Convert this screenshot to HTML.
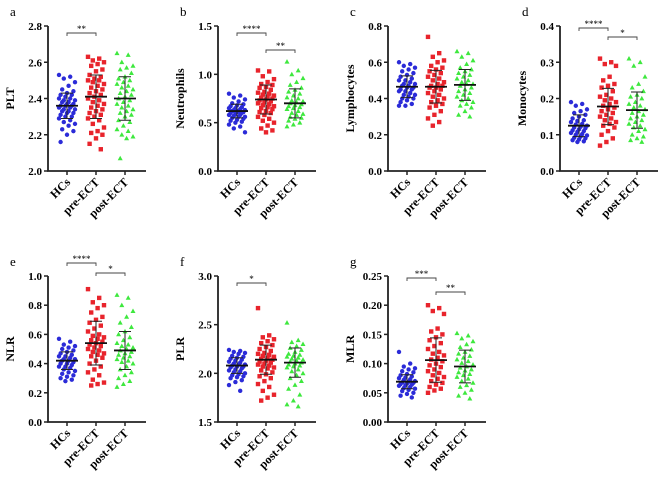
<!DOCTYPE html>
<html><head><meta charset="utf-8"><style>
html,body{margin:0;padding:0;background:#fff;}
svg{display:block;font-family:"Liberation Serif",serif;font-weight:bold;}
</style></head><body>
<svg id="chart" width="669" height="482" viewBox="0 0 669 482" xmlns="http://www.w3.org/2000/svg"></svg>
<script>
// ---- data ----
const categories = ["HCs","pre-ECT","post-ECT"];
const panelLetters = ["a","b","c","d","e","f","g"];
const panelTitles = ["PLT","Neutrophils","Lymphocytes","Monocytes","NLR","PLR","MLR"];
const yMins = [2.0,0,0,0,0,1.5,0];
const yMaxs = [2.8,1.5,0.8,0.4,1.0,3.0,0.25];
const yTicks = [
 ["2.0","2.2","2.4","2.6","2.8"],["0.0","0.5","1.0","1.5"],["0.0","0.2","0.4","0.6","0.8"],
 ["0.0","0.1","0.2","0.3","0.4"],["0.0","0.2","0.4","0.6","0.8","1.0"],["1.5","2.0","2.5","3.0"],
 ["0.00","0.05","0.10","0.15","0.20","0.25"]];
const means = [[2.36,2.41,2.40],[0.62,0.74,0.70],[0.465,0.465,0.475],[0.125,0.178,0.168],[0.42,0.54,0.49],[2.08,2.14,2.11],[0.069,0.106,0.095]];
const sds = [[0.07,0.12,0.12],[0.07,0.15,0.15],[0.06,0.09,0.085],[0.03,0.05,0.05],[0.06,0.15,0.13],[0.08,0.15,0.15],[0.012,0.038,0.028]];
const hcValues = [
 [2.53,2.52,2.51,2.49,2.47,2.45,2.44,2.43,2.42,2.42,2.41,2.40,2.40,2.39,2.39,2.38,2.38,2.37,2.37,2.36,2.36,2.36,2.35,2.35,2.34,2.34,2.33,2.33,2.32,2.32,2.31,2.30,2.30,2.29,2.28,2.27,2.26,2.25,2.23,2.22,2.20,2.16],
 [0.80,0.78,0.76,0.74,0.72,0.70,0.69,0.68,0.67,0.66,0.65,0.65,0.64,0.63,0.63,0.62,0.62,0.61,0.61,0.60,0.60,0.59,0.58,0.58,0.57,0.56,0.56,0.55,0.54,0.53,0.52,0.51,0.50,0.48,0.46,0.44,0.40],
 [0.60,0.59,0.58,0.57,0.56,0.55,0.54,0.53,0.52,0.51,0.50,0.50,0.49,0.48,0.48,0.47,0.47,0.46,0.46,0.45,0.45,0.44,0.44,0.43,0.42,0.42,0.41,0.40,0.40,0.39,0.38,0.37,0.36,0.36],
 [0.19,0.185,0.18,0.17,0.165,0.16,0.155,0.15,0.145,0.14,0.138,0.135,0.13,0.128,0.125,0.122,0.12,0.118,0.115,0.112,0.11,0.108,0.105,0.102,0.10,0.098,0.095,0.092,0.09,0.087,0.085,0.082,0.08],
 [0.57,0.55,0.53,0.52,0.51,0.50,0.49,0.48,0.47,0.46,0.45,0.45,0.44,0.43,0.43,0.42,0.42,0.41,0.40,0.40,0.39,0.38,0.38,0.37,0.36,0.35,0.34,0.33,0.32,0.31,0.30,0.29,0.28],
 [2.24,2.23,2.22,2.21,2.20,2.18,2.17,2.16,2.15,2.14,2.13,2.12,2.11,2.10,2.09,2.09,2.08,2.07,2.07,2.06,2.05,2.04,2.03,2.02,2.01,2.00,1.99,1.98,1.97,1.96,1.95,1.93,1.91,1.88,1.82],
 [0.120,0.100,0.095,0.092,0.090,0.087,0.085,0.082,0.080,0.078,0.076,0.075,0.073,0.072,0.070,0.069,0.068,0.067,0.066,0.065,0.064,0.063,0.062,0.060,0.058,0.057,0.055,0.053,0.050,0.048,0.045,0.042]];
const preValues = [
 [2.63,2.62,2.61,2.60,2.59,2.58,2.56,2.55,2.53,2.52,2.51,2.50,2.50,2.49,2.48,2.47,2.46,2.45,2.44,2.43,2.42,2.41,2.40,2.39,2.38,2.37,2.36,2.35,2.34,2.33,2.32,2.31,2.30,2.29,2.28,2.26,2.24,2.22,2.21,2.20,2.18,2.15,2.12],
 [1.04,1.03,0.98,0.95,0.92,0.90,0.89,0.87,0.86,0.84,0.82,0.81,0.80,0.79,0.78,0.77,0.76,0.75,0.74,0.73,0.72,0.71,0.70,0.69,0.68,0.67,0.66,0.65,0.64,0.62,0.61,0.60,0.58,0.56,0.54,0.52,0.50,0.47,0.44,0.42,0.40],
 [0.74,0.65,0.63,0.61,0.60,0.58,0.57,0.56,0.55,0.54,0.53,0.52,0.51,0.50,0.49,0.48,0.47,0.47,0.46,0.46,0.45,0.44,0.43,0.42,0.41,0.40,0.39,0.38,0.37,0.36,0.35,0.33,0.31,0.29,0.27,0.25],
 [0.31,0.30,0.295,0.29,0.26,0.25,0.24,0.235,0.23,0.22,0.21,0.205,0.20,0.195,0.19,0.185,0.18,0.175,0.17,0.165,0.16,0.155,0.15,0.145,0.14,0.135,0.13,0.125,0.12,0.11,0.10,0.09,0.08,0.07],
 [0.91,0.85,0.82,0.80,0.78,0.75,0.72,0.70,0.68,0.66,0.64,0.62,0.60,0.59,0.58,0.57,0.56,0.55,0.54,0.53,0.52,0.51,0.50,0.49,0.48,0.47,0.46,0.45,0.44,0.42,0.40,0.38,0.36,0.34,0.32,0.29,0.27,0.26,0.25],
 [2.67,2.39,2.37,2.35,2.33,2.31,2.29,2.27,2.25,2.23,2.21,2.20,2.19,2.18,2.17,2.16,2.15,2.14,2.13,2.12,2.11,2.10,2.09,2.08,2.07,2.06,2.05,2.03,2.01,1.99,1.97,1.95,1.92,1.89,1.86,1.82,1.78,1.75,1.72],
 [0.200,0.195,0.190,0.185,0.160,0.155,0.150,0.145,0.140,0.135,0.130,0.125,0.120,0.117,0.114,0.110,0.107,0.104,0.100,0.097,0.094,0.090,0.087,0.084,0.080,0.077,0.074,0.070,0.067,0.064,0.060,0.057,0.054,0.050]];
const postValues = [
 [2.65,2.64,2.60,2.58,2.57,2.56,2.54,2.52,2.51,2.50,2.49,2.48,2.47,2.46,2.45,2.44,2.43,2.42,2.41,2.40,2.39,2.38,2.37,2.36,2.35,2.34,2.33,2.32,2.31,2.30,2.28,2.27,2.25,2.23,2.22,2.20,2.19,2.18,2.07],
 [1.13,1.04,1.00,0.96,0.92,0.89,0.86,0.84,0.82,0.80,0.78,0.76,0.75,0.73,0.72,0.71,0.70,0.69,0.68,0.67,0.66,0.65,0.64,0.62,0.60,0.59,0.58,0.56,0.55,0.54,0.52,0.50,0.48,0.46],
 [0.66,0.65,0.63,0.61,0.59,0.57,0.56,0.55,0.54,0.53,0.52,0.51,0.50,0.49,0.48,0.48,0.47,0.46,0.45,0.44,0.43,0.42,0.41,0.40,0.39,0.38,0.37,0.36,0.35,0.33,0.31,0.30],
 [0.31,0.30,0.29,0.26,0.24,0.23,0.22,0.21,0.205,0.20,0.19,0.185,0.18,0.175,0.17,0.165,0.16,0.155,0.15,0.145,0.14,0.135,0.13,0.125,0.12,0.115,0.11,0.10,0.095,0.09,0.085,0.08],
 [0.87,0.85,0.80,0.76,0.72,0.68,0.65,0.62,0.60,0.58,0.56,0.54,0.53,0.52,0.51,0.50,0.49,0.48,0.47,0.46,0.45,0.44,0.43,0.42,0.41,0.40,0.38,0.36,0.34,0.32,0.30,0.28,0.26,0.24],
 [2.52,2.34,2.32,2.30,2.28,2.26,2.24,2.22,2.20,2.19,2.18,2.17,2.16,2.15,2.14,2.13,2.12,2.11,2.10,2.09,2.08,2.07,2.06,2.04,2.02,2.00,1.98,1.95,1.92,1.88,1.84,1.78,1.72,1.68,1.66],
 [0.152,0.148,0.143,0.138,0.133,0.128,0.124,0.120,0.117,0.113,0.110,0.107,0.104,0.101,0.098,0.095,0.093,0.090,0.088,0.085,0.082,0.080,0.077,0.074,0.070,0.067,0.063,0.060,0.055,0.050,0.045,0.040]];
// significance annotations: [panel, fromGroup, toGroup, label]
const sigPairs = [[0,0,1,"**"],[1,0,1,"****"],[1,1,2,"**"],[3,0,1,"****"],[3,1,2,"*"],[4,0,1,"****"],[4,1,2,"*"],[5,0,1,"*"],[6,0,1,"***"],[6,1,2,"**"]];

// ---- layout ----
const NS="http://www.w3.org/2000/svg";
const svg=document.getElementById('chart');
const axisX=[48,218,388,560,48,218,388];
const topY=[26,26,26,26,276,276,276], botY=[171,171,171,171,422,422,422];
const catOff=[19,48,77];
const colors=["#2b2bd8","#e8242c","#3ee83e"];
function mk(tag,attrs,parent){const e=document.createElementNS(NS,tag);for(const k in attrs)e.setAttribute(k,attrs[k]);(parent||svg).appendChild(e);return e;}
const bracketY=[[33,0],[33,50],[0,0],[28,37],[263,273],[283,0],[278,292]];

for(let p=0;p<7;p++){
  const g=mk('g',{});
  
  
  const ax=axisX[p], t=topY[p], b=botY[p];
  const y=v=>b-(v-yMins[p])/(yMaxs[p]-yMins[p])*(b-t);
  const x=i=>ax+catOff[i];
  const L=mk('text',{x:ax-38,y:t-10,'font-size':13,'font-weight':'normal'},g);L.textContent=panelLetters[p];
  
  
  const ya=mk('path',{d:`M${ax},${t} V${b} H${ax+98}`,stroke:'#222','stroke-width':1.8,fill:'none'},g);
  
  
  yTicks[p].forEach((lab,k)=>{
    const v=parseFloat(lab);const yy=y(v);
    mk('line',{x1:ax-4,x2:ax,y1:yy,y2:yy,stroke:'#222','stroke-width':1.5},g);
    const tx=mk('text',{x:ax-6,y:yy+4,'text-anchor':'end','font-size':11},g);tx.textContent=lab;
    
    
  });
  const yt=mk('text',{transform:`translate(${ax-34},${(t+b)/2}) rotate(-90)`,'text-anchor':'middle','font-size':12},g);yt.textContent=panelTitles[p];
  
  
  categories.forEach((c,i)=>{
    mk('line',{x1:x(i),x2:x(i),y1:b,y2:b+4,stroke:'#222','stroke-width':1.5},g);
    const ct=mk('text',{transform:`translate(${x(i)+4},${b+12}) rotate(-45)`,'text-anchor':'end','font-size':12},g);ct.textContent=c;
    
    
  });
  const groups=[hcValues[p],preValues[p],postValues[p]];
  groups.forEach((vals,i)=>{
    vals.forEach((v,j)=>{
      const jx=x(i)+(((j*7)%11)-5)*1.6, jy=y(v);
      let m;
      if(i===0) m=mk('circle',{cx:jx,cy:jy,r:2.2,fill:colors[0]},g);
      else if(i===1) m=mk('rect',{x:jx-2.2,y:jy-2.2,width:4.4,height:4.4,fill:colors[1]},g);
      else m=mk('path',{d:`M${jx},${jy-2.6} L${jx+2.5},${jy+1.9} L${jx-2.5},${jy+1.9}Z`,fill:colors[2]},g);
      
      
    });
    const mY=y(means[p][i]), hi=y(means[p][i]+sds[p][i]), lo=y(means[p][i]-sds[p][i]);
    const eb=mk('path',{d:`M${x(i)},${hi} V${lo} M${x(i)-6},${hi} H${x(i)+6} M${x(i)-6},${lo} H${x(i)+6}`,stroke:'#222','stroke-width':1,fill:'none'},g);
    
    
    const ml=mk('line',{x1:x(i)-11,x2:x(i)+11,y1:mY,y2:mY,stroke:'#111','stroke-width':1.8},g);
    
    
  });
}
sigPairs.forEach(([p,a,c,lab],k)=>{
  const ax=axisX[p];
  const by=bracketY[p][a===0?0:1];
  const x1=ax+catOff[a], x2=ax+catOff[c];
  const br=mk('path',{d:`M${x1},${by+3} V${by} H${x2} V${by+3}`,stroke:'#444','stroke-width':0.9,fill:'none'});
  
  
  const st=mk('text',{x:(x1+x2)/2,y:by-1,'text-anchor':'middle','font-size':9,'font-weight':'normal'});st.textContent=lab;
  
  
});
</script>
</body></html>
